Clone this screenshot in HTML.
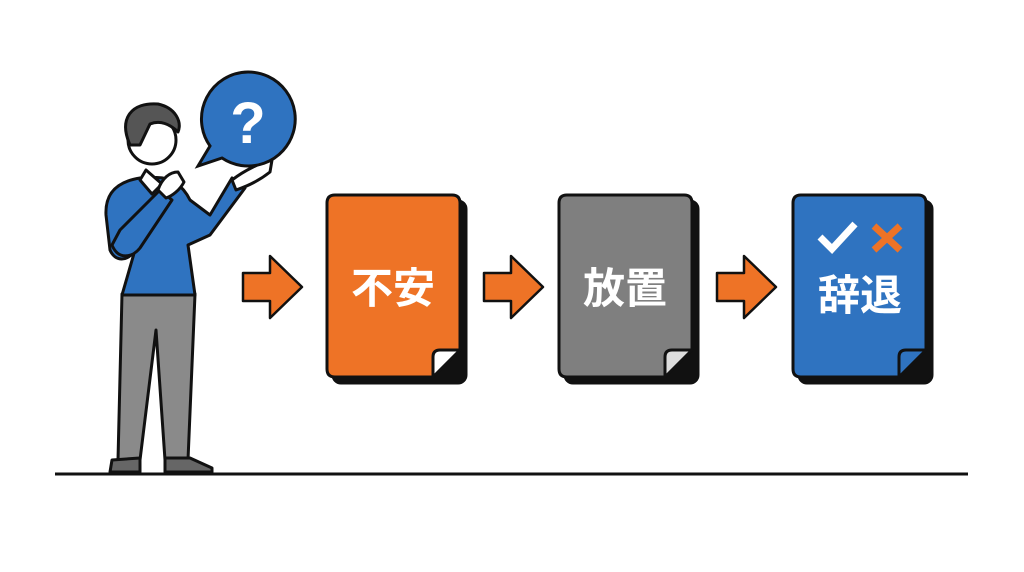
<!DOCTYPE html>
<html><head><meta charset="utf-8"><style>
html,body{margin:0;padding:0;background:#fff;width:1024px;height:572px;overflow:hidden}
svg{display:block}
text{font-family:"Liberation Sans","Noto Sans CJK JP",sans-serif;font-weight:bold}
</style></head><body>
<svg width="1024" height="572" viewBox="0 0 1024 572" xmlns="http://www.w3.org/2000/svg">
<line x1="55" y1="474" x2="968" y2="474" stroke="#111" stroke-width="3"/>
<g stroke="#111" stroke-width="3" stroke-linejoin="round" stroke-linecap="round">
 <path d="M122 294 L118 460 L140 460 L156 330 L165 460 L188 460 L195 294 Z" fill="#8a8a8a"/>
 <path d="M112 460 L140 458 L140 472 L110 472 Z" fill="#666"/>
 <path d="M165 458 L190 458 L212 468 L212 472 L165 472 Z" fill="#666"/>
 <path d="M140 178 C115 182 105 195 106 215 L110 250 C115 262 128 262 135 250 L122 295 L195 295 L188 245 L210 235 L245 188 L232 178 L210 215 L190 200 C180 180 165 176 150 178 Z" fill="#2f73c0"/>
 <path d="M146 170 L140 180 L152 194 L162 184 Z" fill="#fff"/>
 <path d="M112 245 C118 260 132 258 140 248 L172 200 L160 190 L120 230 Z" fill="#2f73c0"/>
 <path d="M158 190 C162 178 170 172 178 172 L184 182 C180 190 172 196 166 198 Z" fill="#fff"/>
 <circle cx="152" cy="140" r="24" fill="#fff"/>
 <path d="M130 145 C118 118 132 102 158 104 C176 108 182 122 178 132 C170 124 160 120 150 124 L140 145 Z" fill="#555"/>
 <path d="M232 180 C245 170 262 162 272 160 L270 172 C260 180 248 186 236 190 Z" fill="#fff"/>
</g>
<path d="M248 72 A47 47 0 1 1 222 158 L198 166 L210 146 A47 47 0 0 1 248 72 Z" fill="#2f73c0" stroke="#111" stroke-width="3"/>
<text x="248" y="143" font-size="58" fill="#fff" text-anchor="middle">?</text>
<g fill="#ee7326" stroke="#111" stroke-width="2.5" stroke-linejoin="round">
 <path d="M243 273 L270 273 L270 256 L302 287 L270 318 L270 301 L243 301 Z"/>
 <path d="M484 273 L511 273 L511 256 L543 287 L511 318 L511 301 L484 301 Z"/>
 <path d="M717 273 L744 273 L744 256 L776 287 L744 318 L744 301 L717 301 Z"/>
</g>
<g stroke="#111" stroke-width="3" stroke-linejoin="round">
 <rect x="333" y="201" width="133" height="182" rx="8" fill="#111"/>
 <path d="M335 195 L452 195 Q460 195 460 203 L460 350 L433 377 L335 377 Q327 377 327 369 L327 203 Q327 195 335 195 Z" fill="#ee7326"/>
 <path d="M460 350 L440 350 Q433 350 433 357 L433 377 Z" fill="#fff"/>
 <rect x="565" y="201" width="133" height="182" rx="8" fill="#111"/>
 <path d="M567 195 L684 195 Q692 195 692 203 L692 350 L665 377 L567 377 Q559 377 559 369 L559 203 Q559 195 567 195 Z" fill="#7f7f7f"/>
 <path d="M692 350 L672 350 Q665 350 665 357 L665 377 Z" fill="#ddd"/>
 <rect x="799" y="201" width="133" height="182" rx="8" fill="#111"/>
 <path d="M801 195 L918 195 Q926 195 926 203 L926 350 L899 377 L801 377 Q793 377 793 369 L793 203 Q793 195 801 195 Z" fill="#2f73c0"/>
 <path d="M926 350 L906 350 Q899 350 899 357 L899 377 Z" fill="#2f73c0"/>
</g>
<text x="393" y="303" font-size="42" fill="#fff" text-anchor="middle">不安</text>
<text x="625" y="303" font-size="42" fill="#fff" text-anchor="middle">放置</text>
<text x="860" y="310" font-size="42" fill="#fff" text-anchor="middle">辞退</text>
<path d="M820 237 L832 249 L855 224" fill="none" stroke="#fff" stroke-width="7"/>
<path d="M874 226 L900 250 M900 226 L874 250" stroke="#ee7326" stroke-width="7"/>
</svg>
</body></html>
